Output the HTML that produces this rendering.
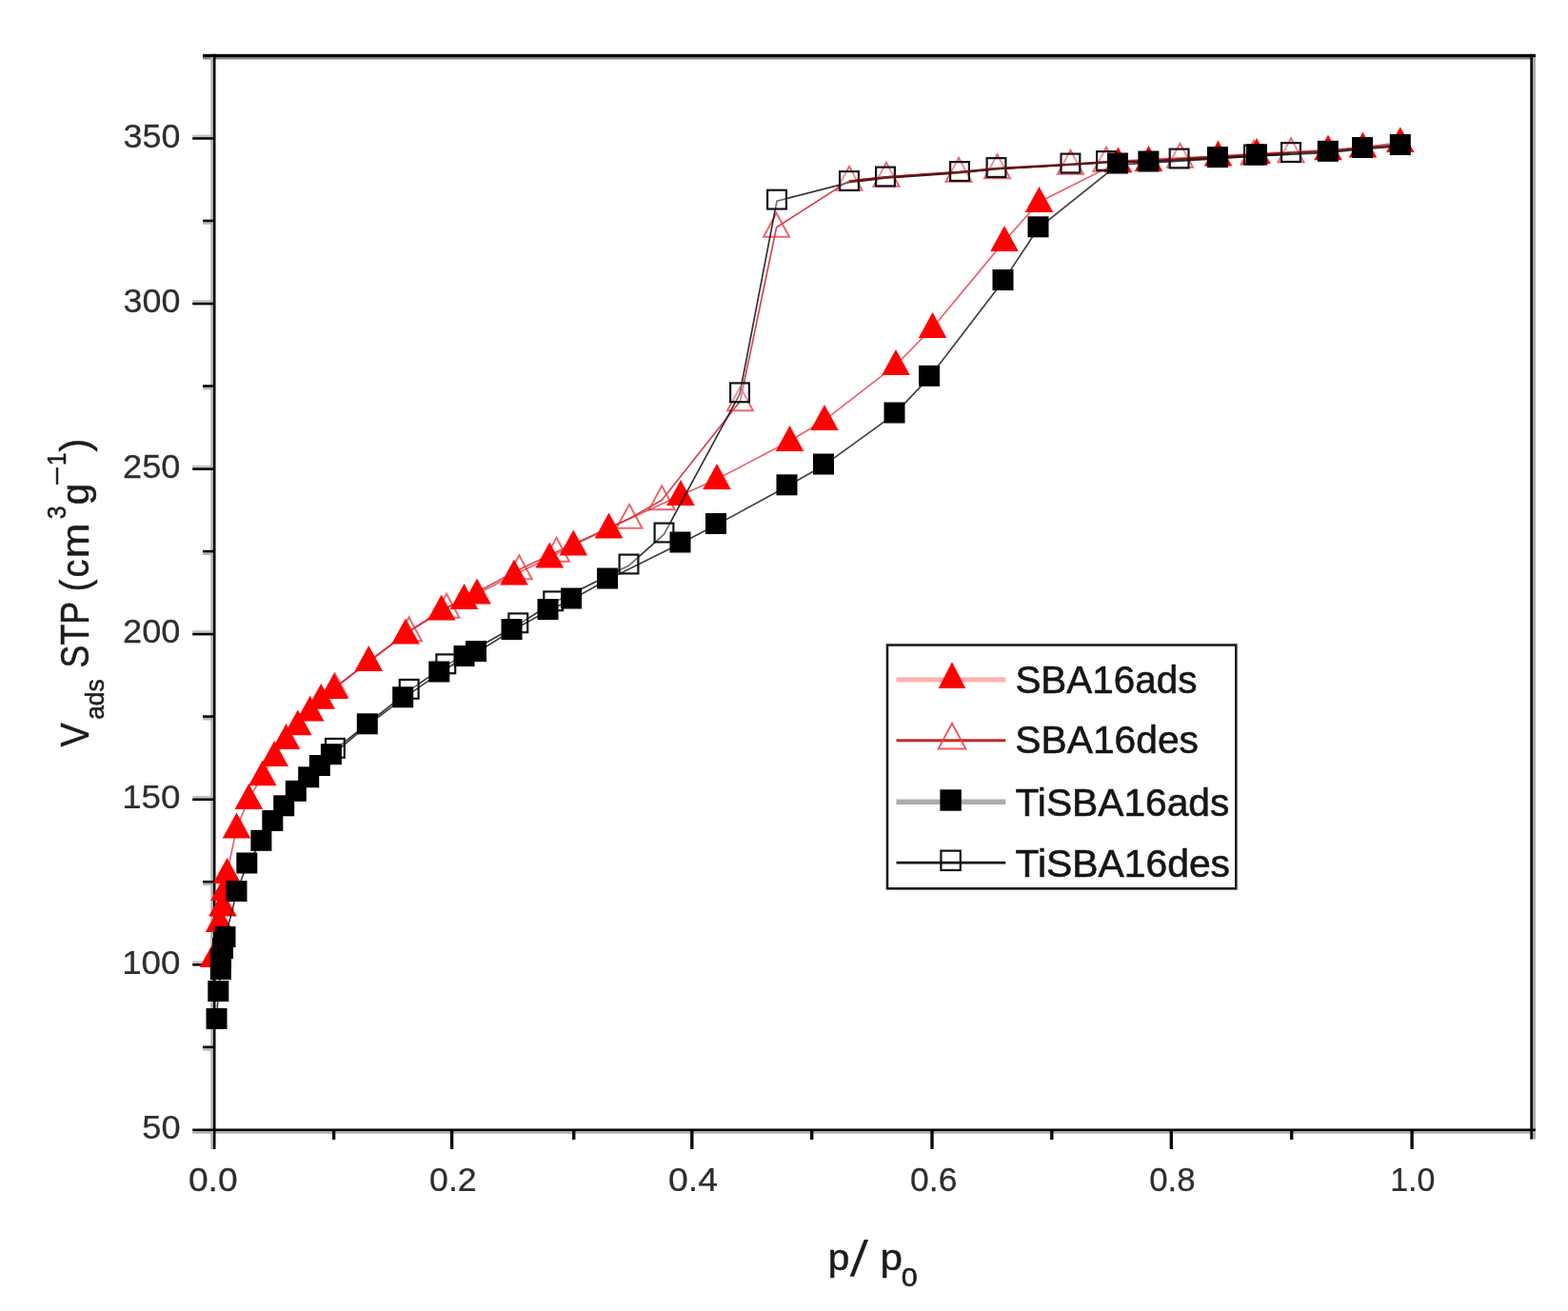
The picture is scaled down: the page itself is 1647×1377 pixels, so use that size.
<!DOCTYPE html>
<html lang="en"><head><meta charset="utf-8"><title>N2 adsorption-desorption isotherms</title>
<style>
html,body{margin:0;padding:0;background:#fff;}
body{width:1647px;height:1377px;overflow:hidden;}
svg{display:block;}
text{font-family:"Liberation Sans",sans-serif;fill:#2a2a2a;}
.tick{fill:#2e2e2e;stroke:#2e2e2e;stroke-width:0.25px;}
.ttl{fill:#1c1c1c;stroke:#1c1c1c;stroke-width:0.5px;}
.leg{fill:#161616;stroke:#161616;stroke-width:0.6px;}
</style></head><body>
<svg width="1647" height="1377" viewBox="0 0 1647 1377">
<rect x="0" y="0" width="1647" height="1377" fill="#ffffff"/>
<g>
<rect x="213.0" y="1101.1" width="11.5" height="2.6" fill="#b8b8b8"/>
<rect x="202.2" y="1009.4" width="22.3" height="2.6" fill="#c4c4c4"/>
<rect x="213.0" y="927.5" width="11.5" height="2.6" fill="#b8b8b8"/>
<rect x="202.2" y="835.8" width="22.3" height="2.6" fill="#c4c4c4"/>
<rect x="213.0" y="753.9" width="11.5" height="2.6" fill="#b8b8b8"/>
<rect x="202.2" y="662.2" width="22.3" height="2.6" fill="#c4c4c4"/>
<rect x="213.0" y="580.4" width="11.5" height="2.6" fill="#b8b8b8"/>
<rect x="202.2" y="488.7" width="22.3" height="2.6" fill="#c4c4c4"/>
<rect x="213.0" y="406.8" width="11.5" height="2.6" fill="#b8b8b8"/>
<rect x="202.2" y="315.1" width="22.3" height="2.6" fill="#c4c4c4"/>
<rect x="213.0" y="233.2" width="11.5" height="2.6" fill="#b8b8b8"/>
<rect x="202.2" y="141.5" width="22.3" height="2.6" fill="#c4c4c4"/>
<rect x="213.0" y="60.0" width="1399.9" height="2.4" fill="#808080"/>
<rect x="202.2" y="1188.1" width="1410.7" height="2.6" fill="#b0b0b0"/>
<rect x="221.3" y="56.8" width="2.6" height="1150.2" fill="#b4b4b4"/>
<rect x="1609.9" y="56.8" width="3.0" height="1139.8" fill="#a8a8a8"/>
<rect x="213.0" y="1098.5" width="11.5" height="2.6" fill="#000"/>
<rect x="202.2" y="1012.0" width="22.3" height="2.6" fill="#000"/>
<rect x="213.0" y="924.9" width="11.5" height="2.6" fill="#000"/>
<rect x="202.2" y="838.4" width="22.3" height="2.6" fill="#000"/>
<rect x="213.0" y="751.3" width="11.5" height="2.6" fill="#000"/>
<rect x="202.2" y="664.8" width="22.3" height="2.6" fill="#000"/>
<rect x="213.0" y="577.8" width="11.5" height="2.6" fill="#000"/>
<rect x="202.2" y="491.3" width="22.3" height="2.6" fill="#000"/>
<rect x="213.0" y="404.2" width="11.5" height="2.6" fill="#000"/>
<rect x="202.2" y="317.7" width="22.3" height="2.6" fill="#000"/>
<rect x="213.0" y="230.6" width="11.5" height="2.6" fill="#000"/>
<rect x="202.2" y="144.1" width="22.3" height="2.6" fill="#000"/>
<rect x="348.9" y="1187" width="3.4" height="10" fill="#0a0a0a"/>
<rect x="472.9" y="1187" width="3.4" height="20" fill="#0a0a0a"/>
<rect x="601.0" y="1187" width="3.4" height="10" fill="#0a0a0a"/>
<rect x="725.1" y="1187" width="3.4" height="20" fill="#0a0a0a"/>
<rect x="851.0" y="1187" width="3.4" height="10" fill="#0a0a0a"/>
<rect x="977.3" y="1187" width="3.4" height="20" fill="#0a0a0a"/>
<rect x="1103.1" y="1187" width="3.4" height="10" fill="#0a0a0a"/>
<rect x="1228.6" y="1187" width="3.4" height="20" fill="#0a0a0a"/>
<rect x="1355.0" y="1187" width="3.4" height="10" fill="#0a0a0a"/>
<rect x="1481.4" y="1187" width="3.4" height="20" fill="#0a0a0a"/>
<rect x="213.0" y="56.8" width="1399.9" height="3.2" fill="#000"/>
<rect x="202.2" y="1185.5" width="1410.7" height="2.6" fill="#000"/>
<rect x="223.9" y="56.8" width="2.6" height="1150.2" fill="#000"/>
<rect x="1607.3" y="56.8" width="2.6" height="1139.8" fill="#000"/>
</g>
<polyline points="351.7,722.3 429.5,663.3 469.0,638.8 545.3,598.3 584.5,579.8 661.0,544.8 695.2,525.3 777.5,421.3 815.6,238.8 892.0,189.8 931.0,185.8 1007.0,180.8 1047.5,177.3 1124.4,172.8 1162.0,169.8 1239.5,165.8 1317.0,162.8 1356.0,160.3" fill="none" stroke="#c81828" stroke-opacity="0.8" stroke-width="1.7"/>
<g fill="none" stroke="#e8404a" stroke-opacity="0.8" stroke-width="2.0" stroke-linejoin="miter">
<polygon points="351.7,707.3 365.2,732.3 338.2,732.3"/>
<polygon points="429.5,648.3 443.0,673.3 416.0,673.3"/>
<polygon points="469.0,623.8 482.5,648.8 455.5,648.8"/>
<polygon points="545.3,583.3 558.8,608.3 531.8,608.3"/>
<polygon points="584.5,564.8 598.0,589.8 571.0,589.8"/>
<polygon points="661.0,529.8 674.5,554.8 647.5,554.8"/>
<polygon points="695.2,510.3 708.7,535.3 681.7,535.3"/>
<polygon points="777.5,406.3 791.0,431.3 764.0,431.3"/>
<polygon points="815.6,223.8 829.1,248.8 802.1,248.8"/>
<polygon points="892.0,174.8 905.5,199.8 878.5,199.8"/>
<polygon points="931.0,170.8 944.5,195.8 917.5,195.8"/>
<polygon points="1007.0,165.8 1020.5,190.8 993.5,190.8"/>
<polygon points="1047.5,162.3 1061.0,187.3 1034.0,187.3"/>
<polygon points="1124.4,157.8 1137.9,182.8 1110.9,182.8"/>
<polygon points="1162.0,154.8 1175.5,179.8 1148.5,179.8"/>
<polygon points="1239.5,150.8 1253.0,175.8 1226.0,175.8"/>
<polygon points="1317.0,147.8 1330.5,172.8 1303.5,172.8"/>
<polygon points="1356.0,145.3 1369.5,170.3 1342.5,170.3"/>
</g>
<polyline points="224.5,1005.3 230.6,968.3 234.0,951.8 236.0,935.3 238.5,917.3 248.5,869.8 261.3,839.3 275.8,814.6 288.2,794.3 300.5,776.3 312.8,761.6 325.7,747.0 337.2,734.1 351.0,723.3 387.3,694.3 426.0,665.8 463.7,640.8 487.5,629.3 501.0,623.8 540.0,603.8 577.3,585.8 602.3,572.8 639.5,554.8 715.0,520.3 753.0,503.3 829.5,463.3 866.0,441.3 941.0,383.3 979.6,344.3 1055.0,253.3 1091.5,212.3 1174.5,170.6 1206.5,169.3 1279.5,163.8 1320.0,161.3 1395.0,157.6 1431.5,154.8 1470.8,149.5" fill="none" stroke="#e02030" stroke-opacity="0.7" stroke-width="1.7"/>
<g fill="#ff0000" stroke="none">
<polygon points="224.5,989.1 239.3,1015.9 209.7,1015.9"/>
<polygon points="230.6,952.1 245.4,978.9 215.8,978.9"/>
<polygon points="234.0,935.6 248.8,962.4 219.2,962.4"/>
<polygon points="236.0,919.1 250.8,945.9 221.2,945.9"/>
<polygon points="238.5,901.1 253.3,927.9 223.7,927.9"/>
<polygon points="248.5,853.6 263.3,880.4 233.7,880.4"/>
<polygon points="261.3,823.1 276.1,849.9 246.5,849.9"/>
<polygon points="275.8,798.4 290.6,825.2 261.0,825.2"/>
<polygon points="288.2,778.1 303.0,804.9 273.4,804.9"/>
<polygon points="300.5,760.1 315.3,786.9 285.7,786.9"/>
<polygon points="312.8,745.4 327.6,772.2 298.0,772.2"/>
<polygon points="325.7,730.8 340.5,757.6 310.9,757.6"/>
<polygon points="337.2,717.9 352.0,744.7 322.4,744.7"/>
<polygon points="351.0,707.1 365.8,733.9 336.2,733.9"/>
<polygon points="387.3,678.1 402.1,704.9 372.5,704.9"/>
<polygon points="426.0,649.6 440.8,676.4 411.2,676.4"/>
<polygon points="463.7,624.6 478.5,651.4 448.9,651.4"/>
<polygon points="487.5,613.1 502.3,639.9 472.7,639.9"/>
<polygon points="501.0,607.6 515.8,634.4 486.2,634.4"/>
<polygon points="540.0,587.6 554.8,614.4 525.2,614.4"/>
<polygon points="577.3,569.6 592.1,596.4 562.5,596.4"/>
<polygon points="602.3,556.6 617.1,583.4 587.5,583.4"/>
<polygon points="639.5,538.6 654.3,565.4 624.7,565.4"/>
<polygon points="715.0,504.1 729.8,530.9 700.2,530.9"/>
<polygon points="753.0,487.1 767.8,513.9 738.2,513.9"/>
<polygon points="829.5,447.1 844.3,473.9 814.7,473.9"/>
<polygon points="866.0,425.1 880.8,451.9 851.2,451.9"/>
<polygon points="941.0,367.1 955.8,393.9 926.2,393.9"/>
<polygon points="979.6,328.1 994.4,354.9 964.8,354.9"/>
<polygon points="1055.0,237.1 1069.8,263.9 1040.2,263.9"/>
<polygon points="1091.5,196.1 1106.3,222.9 1076.7,222.9"/>
<polygon points="1174.5,154.4 1189.3,181.2 1159.7,181.2"/>
<polygon points="1206.5,153.1 1221.3,179.9 1191.7,179.9"/>
<polygon points="1279.5,147.6 1294.3,174.4 1264.7,174.4"/>
<polygon points="1320.0,145.1 1334.8,171.9 1305.2,171.9"/>
<polygon points="1395.0,141.4 1409.8,168.2 1380.2,168.2"/>
<polygon points="1431.5,138.6 1446.3,165.4 1416.7,165.4"/>
<polygon points="1470.8,133.3 1485.6,160.1 1456.0,160.1"/>
</g>
<polyline points="351.9,787.4 429.7,725.4 468.3,698.9 544.3,655.9 581.2,632.9 660.5,594.1 697.5,561.1 777.0,413.9 816.0,211.2 892.0,191.6 930.0,187.1 1008.0,181.6 1046.5,177.6 1124.4,173.1 1162.0,170.6 1238.6,168.1 1317.0,164.1 1356.0,161.6" fill="none" stroke="#101010" stroke-opacity="0.85" stroke-width="1.7"/>
<g fill="#ffffff" fill-opacity="0.3" stroke="#141414" stroke-width="2.2">
<rect x="342.0" y="775.9" width="19.8" height="19.8"/>
<rect x="419.8" y="713.9" width="19.8" height="19.8"/>
<rect x="458.4" y="687.4" width="19.8" height="19.8"/>
<rect x="534.4" y="644.4" width="19.8" height="19.8"/>
<rect x="571.3" y="621.4" width="19.8" height="19.8"/>
<rect x="650.6" y="582.6" width="19.8" height="19.8"/>
<rect x="687.6" y="549.6" width="19.8" height="19.8"/>
<rect x="767.1" y="402.4" width="19.8" height="19.8"/>
<rect x="806.1" y="199.7" width="19.8" height="19.8"/>
<rect x="882.1" y="180.1" width="19.8" height="19.8"/>
<rect x="920.1" y="175.6" width="19.8" height="19.8"/>
<rect x="998.1" y="170.1" width="19.8" height="19.8"/>
<rect x="1036.6" y="166.1" width="19.8" height="19.8"/>
<rect x="1114.5" y="161.6" width="19.8" height="19.8"/>
<rect x="1152.1" y="159.1" width="19.8" height="19.8"/>
<rect x="1228.7" y="156.6" width="19.8" height="19.8"/>
<rect x="1307.1" y="152.6" width="19.8" height="19.8"/>
<rect x="1346.1" y="150.1" width="19.8" height="19.8"/>
</g>
<polyline points="892.0,190.6 930.0,186.2 1008.0,180.8 1046.5,177.0 1124.4,172.6 1162.0,170.2 1206.4,169.6 1238.6,167.2 1279.0,165.2 1320.0,162.8 1356.0,160.6 1394.8,158.9 1431.0,155.4 1470.8,152.2" fill="none" stroke="#6a0c0c" stroke-opacity="0.85" stroke-width="2.4"/>
<polyline points="227.5,1071.6 229.3,1042.6 231.8,1019.6 232.0,1008.6 234.0,997.6 236.5,985.6 248.5,937.6 259.3,908.1 274.4,884.4 286.3,863.6 298.2,847.9 310.8,832.4 324.2,817.9 335.8,805.6 347.9,793.8 385.8,761.9 423.2,733.9 461.3,707.1 487.5,690.6 500.0,685.6 537.5,662.6 575.5,641.6 600.0,630.1 638.0,609.1 714.5,571.1 752.0,551.6 826.5,510.9 865.0,489.1 939.5,435.1 976.1,396.4 1053.5,295.6 1090.5,239.9 1174.0,173.1 1206.4,171.1 1279.0,166.6 1320.0,163.9 1394.8,160.4 1431.0,156.6 1470.8,153.6" fill="none" stroke="#101010" stroke-opacity="0.8" stroke-width="1.7"/>
<g fill="#000000" stroke="none">
<rect x="216.5" y="1059.0" width="22.0" height="22.0"/>
<rect x="218.3" y="1030.0" width="22.0" height="22.0"/>
<rect x="220.8" y="1007.0" width="22.0" height="22.0"/>
<rect x="221.0" y="996.0" width="22.0" height="22.0"/>
<rect x="223.0" y="985.0" width="22.0" height="22.0"/>
<rect x="225.5" y="973.0" width="22.0" height="22.0"/>
<rect x="237.5" y="925.0" width="22.0" height="22.0"/>
<rect x="248.3" y="895.5" width="22.0" height="22.0"/>
<rect x="263.4" y="871.8" width="22.0" height="22.0"/>
<rect x="275.3" y="851.0" width="22.0" height="22.0"/>
<rect x="287.2" y="835.3" width="22.0" height="22.0"/>
<rect x="299.8" y="819.8" width="22.0" height="22.0"/>
<rect x="313.2" y="805.3" width="22.0" height="22.0"/>
<rect x="324.8" y="793.0" width="22.0" height="22.0"/>
<rect x="336.9" y="781.2" width="22.0" height="22.0"/>
<rect x="374.8" y="749.3" width="22.0" height="22.0"/>
<rect x="412.2" y="721.3" width="22.0" height="22.0"/>
<rect x="450.3" y="694.5" width="22.0" height="22.0"/>
<rect x="476.5" y="678.0" width="22.0" height="22.0"/>
<rect x="489.0" y="673.0" width="22.0" height="22.0"/>
<rect x="526.5" y="650.0" width="22.0" height="22.0"/>
<rect x="564.5" y="629.0" width="22.0" height="22.0"/>
<rect x="589.0" y="617.5" width="22.0" height="22.0"/>
<rect x="627.0" y="596.5" width="22.0" height="22.0"/>
<rect x="703.5" y="558.5" width="22.0" height="22.0"/>
<rect x="741.0" y="539.0" width="22.0" height="22.0"/>
<rect x="815.5" y="498.3" width="22.0" height="22.0"/>
<rect x="854.0" y="476.5" width="22.0" height="22.0"/>
<rect x="928.5" y="422.5" width="22.0" height="22.0"/>
<rect x="965.1" y="383.8" width="22.0" height="22.0"/>
<rect x="1042.5" y="283.0" width="22.0" height="22.0"/>
<rect x="1079.5" y="227.3" width="22.0" height="22.0"/>
<rect x="1163.0" y="160.5" width="22.0" height="22.0"/>
<rect x="1195.4" y="158.5" width="22.0" height="22.0"/>
<rect x="1268.0" y="154.0" width="22.0" height="22.0"/>
<rect x="1309.0" y="151.3" width="22.0" height="22.0"/>
<rect x="1383.8" y="147.8" width="22.0" height="22.0"/>
<rect x="1420.0" y="144.0" width="22.0" height="22.0"/>
<rect x="1459.8" y="141.0" width="22.0" height="22.0"/>
</g>
<text class="tick" font-size="35" transform="translate(149.25,1196.10) scale(1.0349,1)">50</text>
<text class="tick" font-size="35" transform="translate(128.14,1022.52) scale(1.0510,1)">100</text>
<text class="tick" font-size="35" transform="translate(128.14,848.93) scale(1.0510,1)">150</text>
<text class="tick" font-size="35" transform="translate(129.09,675.35) scale(1.0344,1)">200</text>
<text class="tick" font-size="35" transform="translate(129.09,501.76) scale(1.0344,1)">250</text>
<text class="tick" font-size="35" transform="translate(129.55,328.18) scale(1.0262,1)">300</text>
<text class="tick" font-size="35" transform="translate(129.55,154.59) scale(1.0262,1)">350</text>
<text class="tick" font-size="35" transform="translate(197.91,1250.60) scale(1.0645,1)">0.0</text>
<text class="tick" font-size="35" transform="translate(451.08,1250.60) scale(1.0176,1)">0.2</text>
<text class="tick" font-size="35" transform="translate(702.00,1250.60) scale(1.0694,1)">0.4</text>
<text class="tick" font-size="35" transform="translate(956.08,1250.60) scale(1.0139,1)">0.6</text>
<text class="tick" font-size="35" transform="translate(1207.21,1250.60) scale(0.9943,1)">0.8</text>
<text class="tick" font-size="35" transform="translate(1460.15,1250.60) scale(0.9706,1)">1.0</text>
<text class="ttl" font-size="39" transform="translate(869.66,1334.20) scale(1.0427,1)">p</text>
<text class="ttl" font-size="52" transform="translate(893.0,1339.6) skewX(-7) scale(0.98,1)">/</text>
<text class="ttl" font-size="39" transform="translate(924.56,1334.20) scale(1.0826,1)">p</text>
<text class="ttl" font-size="27" transform="translate(946.78,1351.40) scale(1.1324,1)">0</text>
<g transform="translate(93,785) rotate(-90)">
<text class="ttl" font-size="42" transform="translate(0.61,0.00) scale(0.9017,1)">V</text>
<text class="ttl" font-size="28" transform="translate(29.18,15.70) scale(0.9423,1)">ads</text>
<text class="ttl" font-size="42" transform="translate(83.59,0.00) scale(0.8519,1)">STP</text>
<text class="ttl" font-size="42" transform="translate(163.87,0.00) scale(0.8895,1)">(</text>
<text class="ttl" font-size="40" transform="translate(178.39,0.00) scale(0.9477,1)">c</text>
<text class="ttl" font-size="40" transform="translate(198.64,0.00) scale(1.0964,1)">m</text>
<text class="ttl" font-size="27" transform="translate(239.87,-24.50) scale(0.9201,1)">3</text>
<text class="ttl" font-size="40" transform="translate(254.77,0.00) scale(1.0167,1)">g</text>
<text class="ttl" font-size="27" transform="translate(274.70,-24.50) scale(1.3364,1)">−</text>
<text class="ttl" font-size="27" transform="translate(295.88,-24.50) scale(0.8992,1)">1</text>
<text class="ttl" font-size="42" transform="translate(310.49,0.00) scale(0.9973,1)">)</text>
</g>
<rect x="932" y="677.5" width="366.3" height="255.8" fill="#ffffff" stroke="#1c1c1c" stroke-width="2.6"/>
<line x1="941.5" y1="713.9" x2="1056.3" y2="713.9" stroke="#ffb0b0" stroke-width="5.4"/>
<polygon points="1000.0,695.3 1014.3,722.9 985.7,722.9" fill="#ff0000"/>
<line x1="941.5" y1="777.8" x2="1056.3" y2="777.8" stroke="#c82828" stroke-width="3.0"/>
<polygon points="1000.0,759.8 1014.3,786.4 985.7,786.4" fill="none" stroke="#ee3a44" stroke-opacity="0.85" stroke-width="2.0"/>
<line x1="941.5" y1="842.3" x2="1056.3" y2="842.3" stroke="#adadad" stroke-width="5.6"/>
<rect x="987.4" y="829.3" width="22.4" height="22.4" fill="#000000"/>
<line x1="941.5" y1="906.2" x2="1056.3" y2="906.2" stroke="#141414" stroke-width="2.8"/>
<rect x="988.4" y="893.6" width="20.4" height="20.4" fill="none" stroke="#111111" stroke-width="2.2"/>
<text class="leg" font-size="41" transform="translate(1066.38,728.10) scale(0.9861,1)">SBA16ads</text>
<text class="leg" font-size="41" transform="translate(1066.37,791.30) scale(0.9945,1)">SBA16des</text>
<text class="leg" font-size="41" transform="translate(1066.48,856.60) scale(0.9935,1)">TiSBA16ads</text>
<text class="leg" font-size="41" transform="translate(1066.48,920.50) scale(0.9966,1)">TiSBA16des</text>
</svg>
</body></html>
